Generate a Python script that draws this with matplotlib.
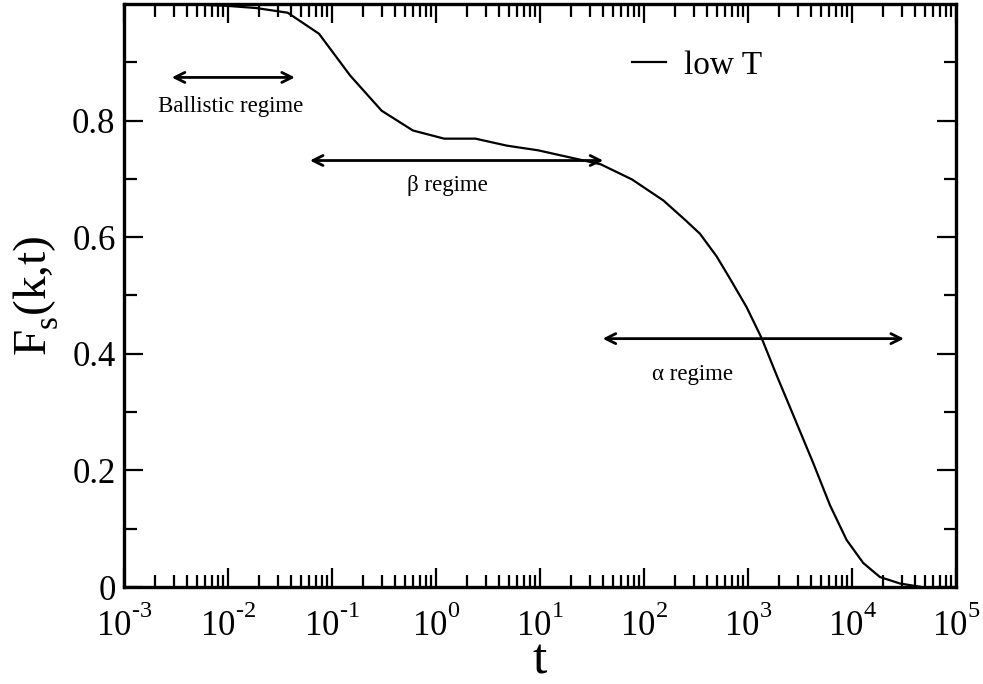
import numpy as np
import matplotlib
matplotlib.use("Agg")
import matplotlib.pyplot as plt
from matplotlib.ticker import FixedLocator, FuncFormatter, LogLocator, NullFormatter

plt.rcParams["font.family"] = ["Liberation Serif", "DejaVu Serif"]
plt.rcParams["mathtext.fontset"] = "custom"
plt.rcParams["mathtext.rm"] = "Liberation Serif"
plt.rcParams["mathtext.it"] = "Liberation Serif:italic"

# raise exponents a little higher, as in classic xmgrace output
try:
    from matplotlib import _mathtext
    _mathtext.FontConstantsBase.sup1 = 1.05
    _mathtext.FontConstantsBase.sub1 = 0.6
except Exception:
    pass

# Self-intermediate scattering function at low temperature
t_vals = [0.00117, 0.00234, 0.00469, 0.009375, 0.01875, 0.0375, 0.075, 0.15,
          0.3, 0.6, 1.2, 2.4, 4.8, 9.6, 19.2, 38.4, 76.8, 153.6, 251, 345,
          500, 671, 970, 1355, 1888, 2729, 4246, 6138, 8892, 12853, 18578,
          28950, 45082]
fs_vals = [1.0, 1.0, 0.999, 0.997, 0.993, 0.985, 0.949, 0.877,
           0.817, 0.783, 0.769, 0.769, 0.757, 0.749, 0.737, 0.725, 0.699,
           0.663, 0.629, 0.606, 0.567, 0.529, 0.480, 0.4266, 0.363, 0.2946,
           0.2124, 0.1405, 0.0805, 0.0411, 0.0171, 0.006, 0.0005]

y_ticks = [0.0, 0.2, 0.4, 0.6, 0.8]
y_tick_labels = ["0", "0.2", "0.4", "0.6", "0.8"]
y_minor = [0.1, 0.3, 0.5, 0.7, 0.9]

# Regime arrows: (label, t_left, t_right, F level, label t, label F)
regimes = [
    ("Ballistic regime", 0.00288, 0.044, 0.874, 0.0107, 0.824),
    ("\u03b2 regime", 0.0614, 40.6, 0.7315, 1.29, 0.689),
    ("\u03b1 regime", 40.1, 31623, 0.426, 294, 0.365),
]


def decade_label(v, pos):
    e = int(round(np.log10(v)))
    exp = ("\u2010%d" % -e) if e < 0 else "%d" % e
    return r"$\mathregular{10^{%s}}$" % exp


fig = plt.figure(figsize=(9.83, 6.84), dpi=100)
ax = fig.add_axes([0.1261, 0.1418, 0.8464, 0.8524])

ax.plot(t_vals, fs_vals, color="black", lw=1.6, label="low T")

ax.set_xscale("log")
ax.set_xlim(1e-3, 1e5)
ax.set_ylim(0, 1.0)

ax.xaxis.set_major_locator(LogLocator(base=10, numticks=20))
ax.xaxis.set_minor_locator(LogLocator(base=10, subs=np.arange(2, 10), numticks=20))
ax.xaxis.set_major_formatter(FuncFormatter(decade_label))
ax.xaxis.set_minor_formatter(NullFormatter())

ax.yaxis.set_major_locator(FixedLocator(y_ticks))
ax.set_yticklabels(y_tick_labels)
ax.yaxis.set_minor_locator(FixedLocator(y_minor))

for s in ax.spines.values():
    s.set_linewidth(2.4)

ax.tick_params(which="both", direction="in", top=True, right=True, width=1.6)
ax.tick_params(which="major", length=13.5)
ax.tick_params(which="minor", length=9)
ax.tick_params(axis="x", which="major", labelsize=25, pad=13)
ax.tick_params(axis="y", which="major", labelsize=25, pad=6)

ax.set_xlabel("t", fontsize=37, labelpad=-4)
ax.set_ylabel(r"F$_{\mathregular{s}}$(k,t)", fontsize=34, labelpad=8)

for label, tl, tr, fy, lx, ly in regimes:
    ax.annotate("", xy=(tr, fy), xytext=(tl, fy),
                arrowprops=dict(arrowstyle="<->", lw=2, color="black",
                                mutation_scale=18, shrinkA=0, shrinkB=0))
    ax.text(lx, ly, label, fontsize=16.5, ha="center", va="center")

ax.legend(loc="center left", bbox_to_anchor=(0.611, 0.894), frameon=False,
          fontsize=24, handlelength=1.0, handletextpad=0.55,
          borderpad=0, borderaxespad=0)

fig.savefig("out.png", dpi=100)
